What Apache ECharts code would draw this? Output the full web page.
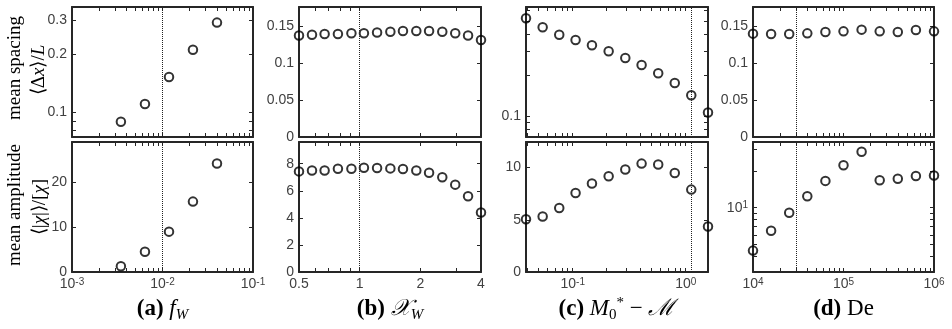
<!DOCTYPE html>
<html>
<head>
<meta charset="utf-8">
<script src="https://cdn.jsdelivr.net/npm/echarts@6/dist/echarts.min.js"></script>
<style>
html, body { margin: 0; padding: 0; background: #fff; }
#main { width: 952px; height: 329px; }
</style>
</head>
<body>
<div id="main"></div>
<script>
var myChart = echarts.init(document.getElementById('main'));

// (a) f_W
var fW = [0.00347, 0.0064, 0.0118, 0.0217, 0.040];
var spacingA = [0.089, 0.110, 0.152, 0.211, 0.292];
var amplitudeA = [1.3, 4.5, 9.0, 15.7, 24.2];

// (b) X_W
var xW = [0.5, 0.58, 0.67, 0.78, 0.91, 1.05, 1.22, 1.42, 1.64, 1.91, 2.21, 2.57, 2.98, 3.45, 4.0];
var spacingB = [0.137, 0.138, 0.139, 0.139, 0.140, 0.140, 0.141, 0.142, 0.143, 0.143, 0.143, 0.142, 0.140, 0.137, 0.131];
var amplitudeB = [7.43, 7.5, 7.5, 7.63, 7.63, 7.7, 7.68, 7.65, 7.6, 7.5, 7.33, 7.0, 6.45, 5.6, 4.4];

// (c) M0* - M
var dM = [0.0386, 0.0542, 0.076, 0.106, 0.148, 0.208, 0.292, 0.407, 0.571, 0.80, 1.12, 1.575];
var spacingC = [0.523, 0.449, 0.396, 0.362, 0.331, 0.299, 0.267, 0.237, 0.206, 0.175, 0.142, 0.106];
var amplitudeC = [5.05, 5.31, 6.13, 7.57, 8.47, 9.17, 9.81, 10.38, 10.29, 9.48, 7.89, 4.35];

// (d) De
var De = [1e4, 1.585e4, 2.512e4, 3.981e4, 6.31e4, 1e5, 1.585e5, 2.512e5, 3.981e5, 6.31e5, 1e6];
var spacingD = [0.1397, 0.1392, 0.1392, 0.1401, 0.1419, 0.1428, 0.1451, 0.1428, 0.1419, 0.1446, 0.1428];
var amplitudeD = [4.45, 6.47, 9.1, 12.4, 16.6, 22.3, 28.8, 16.8, 17.3, 18.2, 18.4];

// dotted vertical lines
var thresholds = [0.01, 1, 1.13, 3e4];

// tick labels
var xLabelsA = [0.001, 0.01, 0.1];
var xLabelsB = [0.5, 1, 2, 4];
var xLabelsC = [0.1, 1];
var xLabelsD = [1e4, 1e5, 1e6];
var spacingLabelsA = [0.1, 0.2, 0.3];
var spacingLabelsB = [0, 0.05, 0.1, 0.15];
var spacingLabelsC = [0.1];
var spacingLabelsD = [0, 0.05, 0.1, 0.15];
var amplitudeLabelsA = [0, 10, 20];
var amplitudeLabelsB = [0, 2, 4, 6, 8];
var amplitudeLabelsC = [0, 5, 10];
var amplitudeLabelsD = [10];

var sansFont = 'Liberation Sans';
var serifFont = 'Liberation Serif';
var axisColor = '#262626';

function powLabel(v) {
    return '10{e|' + Math.round(Math.log10(v)) + '}';
}
function numLabel(v) {
    return String(+(+v).toPrecision(6));
}
// matlab-like log ticks: 1..9 x 10^n inside the range
function logTicks(lo, hi) {
    var t = [];
    for (var e = Math.floor(Math.log10(lo)); e <= Math.ceil(Math.log10(hi)); e++) {
        for (var m = 1; m < 10; m++) {
            var v = +(m * Math.pow(10, e)).toPrecision(6);
            if (v >= lo * 0.999 && v <= hi * 1.001) t.push(v);
        }
    }
    return t;
}

var panels = [{
    x: {type: 'log', min: 0.001, max: 0.1, labels: xLabelsA, fmt: powLabel},
    top: {type: 'log', min: 0.0741, max: 0.352, labels: spacingLabelsA},
    bot: {type: 'value', min: 0, max: 29, labels: amplitudeLabelsA},
    xs: fW, ys: [spacingA, amplitudeA]
}, {
    x: {type: 'log', base: 2, min: 0.5, max: 4, labels: xLabelsB},
    top: {type: 'value', min: 0, max: 0.1755, labels: spacingLabelsB},
    bot: {type: 'value', min: 0, max: 9.6, labels: amplitudeLabelsB},
    xs: xW, ys: [spacingB, amplitudeB]
}, {
    x: {type: 'log', min: 0.0386, max: 1.575, labels: xLabelsC, fmt: powLabel},
    top: {type: 'log', min: 0.0701, max: 0.633, labels: spacingLabelsC},
    bot: {type: 'value', min: 0, max: 12.45, labels: amplitudeLabelsC},
    xs: dM, ys: [spacingC, amplitudeC]
}, {
    x: {type: 'log', min: 1e4, max: 1e6, labels: xLabelsD, fmt: powLabel},
    top: {type: 'value', min: 0, max: 0.1757, labels: spacingLabelsD},
    bot: {type: 'log', min: 2.97, max: 34.6, labels: amplitudeLabelsD, fmt: powLabel},
    xs: De, ys: [spacingD, amplitudeD]
}];

var gridLeft = [72, 299, 526, 753];
var gridWidth = [181, 182, 182, 181];
var gridTop = [7, 142];
var gridHeight = 130;

function makeAxis(spec, gridIndex, position, withLabels) {
    var ticks = spec.type === 'log' ? logTicks(spec.min, spec.max) : spec.labels;
    var a = {
        type: spec.type,
        gridIndex: gridIndex,
        position: position,
        min: spec.min,
        max: spec.max,
        axisLine: {show: true, onZero: false, lineStyle: {color: axisColor, width: 2}},
        axisTick: {show: true, inside: true, length: 4, customValues: ticks,
            lineStyle: {color: axisColor, width: 1}},
        axisLabel: {show: withLabels, customValues: spec.labels, formatter: spec.fmt || numLabel,
            fontFamily: sansFont, fontSize: 14, color: '#404040', margin: 5,
            rich: {e: {fontFamily: sansFont, fontSize: 10, color: '#404040', verticalAlign: 'top', lineHeight: 10}}},
        splitLine: {show: false},
        minorTick: {show: false}
    };
    if (spec.type === 'log') a.logBase = spec.base || 10;
    return a;
}

var grids = [], xAxes = [], yAxes = [], series = [];
for (var row = 0; row < 2; row++) {
    for (var i = 0; i < 4; i++) {
        var g = row * 4 + i;
        var p = panels[i];
        var ySpec = row === 0 ? p.top : p.bot;
        grids.push({left: gridLeft[i], top: gridTop[row], width: gridWidth[i], height: gridHeight});
        xAxes.push(makeAxis(p.x, g, 'bottom', row === 1));
        xAxes.push(makeAxis(p.x, g, 'top', false));
        yAxes.push(makeAxis(ySpec, g, 'left', true));
        yAxes.push(makeAxis(ySpec, g, 'right', false));
        series.push({
            type: 'scatter',
            xAxisIndex: 2 * g,
            yAxisIndex: 2 * g,
            data: p.xs.map(function (x, k) { return [x, this[k]]; }, p.ys[row]),
            symbol: 'circle',
            symbolSize: 8.5,
            itemStyle: {color: 'rgba(0,0,0,0)', borderColor: '#000', borderWidth: 2},
            emphasis: {disabled: true},
            markLine: {
                silent: true,
                symbol: 'none',
                label: {show: false},
                lineStyle: {type: 'dotted', color: '#222', width: 1},
                data: [{xAxis: thresholds[i]}]
            }
        });
    }
}

var capStyle = {
    b: {fontFamily: serifFont, fontWeight: 'bold', fontSize: 23, lineHeight: 27},
    i: {fontFamily: serifFont, fontStyle: 'italic', fontSize: 23, lineHeight: 27},
    r: {fontFamily: serifFont, fontSize: 23, lineHeight: 27},
    s: {fontFamily: serifFont, fontStyle: 'italic', fontSize: 15, lineHeight: 15, verticalAlign: 'bottom'},
    n: {fontFamily: serifFont, fontSize: 15, lineHeight: 15, verticalAlign: 'bottom'},
    p: {fontFamily: serifFont, fontSize: 15, lineHeight: 15, verticalAlign: 'top'}
};
var captions = [
    '{b|(a)} {i|f}{s|W}',
    '{b|(b)} {i|\uD835\uDCB3}{s|W}',
    '{b|(c)} {i|M}{n|0}{p|*}{r| \u2212 }{i|\u2133}',
    '{b|(d)} {r|De}'
];
var graphics = captions.map(function (c, i) {
    return {
        type: 'text',
        x: gridLeft[i] + gridWidth[i] / 2,
        y: 309,
        style: {text: c, rich: capStyle, align: 'center', verticalAlign: 'middle', fill: '#000',
            font: '23px ' + serifFont}
    };
});
var titleRich = {
    i: {fontFamily: serifFont, fontStyle: 'italic', fontSize: 19}
};
var yTitles = [
    {text: 'mean spacing', x: 15, y: 68},
    {text: '\u27E8\u0394{i|x}\u27E9/{i|L}', x: 39, y: 70},
    {text: 'mean amplitude', x: 15, y: 205},
    {text: '\u27E8|{i|\u03C7}|\u27E9/[{i|\u03C7}]', x: 40, y: 207}
];
yTitles.forEach(function (t) {
    graphics.push({
        type: 'text',
        x: t.x,
        y: t.y,
        rotation: Math.PI / 2,
        style: {text: t.text, rich: titleRich, align: 'center', verticalAlign: 'middle', fill: '#000',
            font: '19px ' + serifFont}
    });
});

var option = {
    backgroundColor: '#fff',
    animation: false,
    grid: grids,
    xAxis: xAxes,
    yAxis: yAxes,
    series: series,
    graphic: graphics
};
myChart.setOption(option);
</script>
</body>
</html>
